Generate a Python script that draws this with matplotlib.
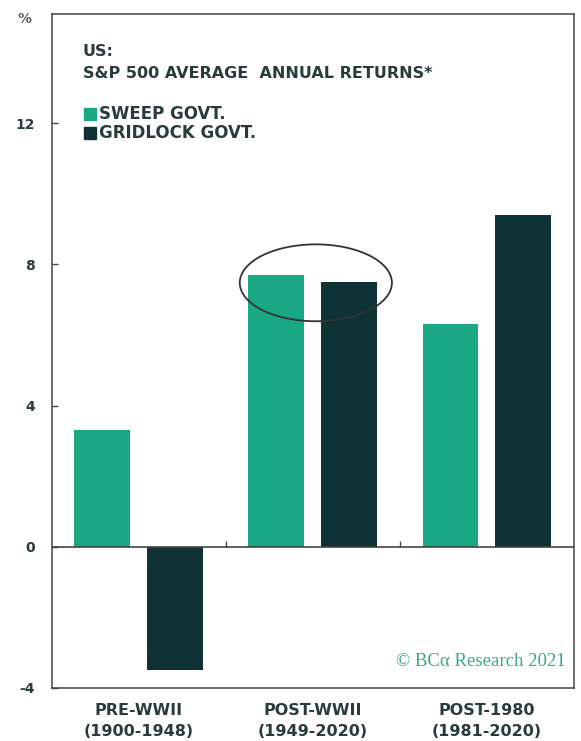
import matplotlib.pyplot as plt
from matplotlib.patches import Ellipse
import numpy as np

periods = ['PRE-WWII\n(1900-1948)', 'POST-WWII\n(1949-2020)', 'POST-1980\n(1981-2020)']
sweep = [3.3, 7.7, 6.3]
gridlock = [-3.5, 7.5, 9.4]
yticks = [-4, 0, 4, 8, 12]

green = '#1aa884'
dark = '#0f3235'
txt = '#2a3b3e'

plt.rcParams['font.family'] = ['DejaVu Sans']

fig = plt.figure(figsize=(5.81, 7.41), dpi=100)
ax = fig.add_axes([0.089, 0.072, 0.899, 0.909])

x = np.arange(len(periods))
w = 0.32
ax.bar(x - 0.21, sweep, w, color=green)
ax.bar(x + 0.207, gridlock, w, color=dark)

ax.set_xlim(-0.5, 2.5)
ax.set_ylim(-4, 15.1)
ax.axhline(0, color='#444444', lw=1.2)
# little group separators sitting on the zero line
ax.vlines([0.5, 1.5], 0, 0.15, color='#444444', lw=1)

ax.set_yticks(yticks)
ax.set_yticklabels([str(t) for t in yticks], fontsize=10, fontweight='bold', color=txt)
ax.tick_params(axis='y', direction='in', length=4, width=1, pad=12, color='#444444')
ax.set_xticks(x)
ax.set_xticklabels(periods, fontsize=11.5, fontweight='bold', color=txt, linespacing=1.5)
ax.tick_params(axis='x', length=0, pad=11)
for s in ax.spines.values():
    s.set_color('#444444')
    s.set_linewidth(1.1)

fig.text(0.042, 0.975, '%', fontsize=10, fontweight='bold', color='#555f60', ha='center', va='center')

ax.text(-0.322, 14.04, 'US:', fontsize=11.5, fontweight='bold', color=txt, va='center')
ax.text(-0.322, 13.42, 'S&P 500 AVERAGE  ANNUAL RETURNS*', fontsize=11.5, fontweight='bold',
        color=txt, va='center')
ax.plot([-0.278], [12.28], 's', ms=8, color=green)
ax.text(-0.228, 12.28, 'SWEEP GOVT.', fontsize=12, fontweight='bold', color=txt, va='center')
ax.plot([-0.278], [11.72], 's', ms=8, color=dark)
ax.text(-0.228, 11.72, 'GRIDLOCK GOVT.', fontsize=12, fontweight='bold', color=txt, va='center')

ax.add_patch(Ellipse((1.017, 7.48), 0.874, 2.18, fill=False, ec='#333333', lw=1.3))

ax.text(2.45, -3.25, '\u00a9 BC\u03b1 Research 2021', fontsize=13.5, color='#3aa98a',
        ha='right', va='center', family=['Liberation Serif', 'DejaVu Serif'])

fig.savefig('out.png', dpi=100)
